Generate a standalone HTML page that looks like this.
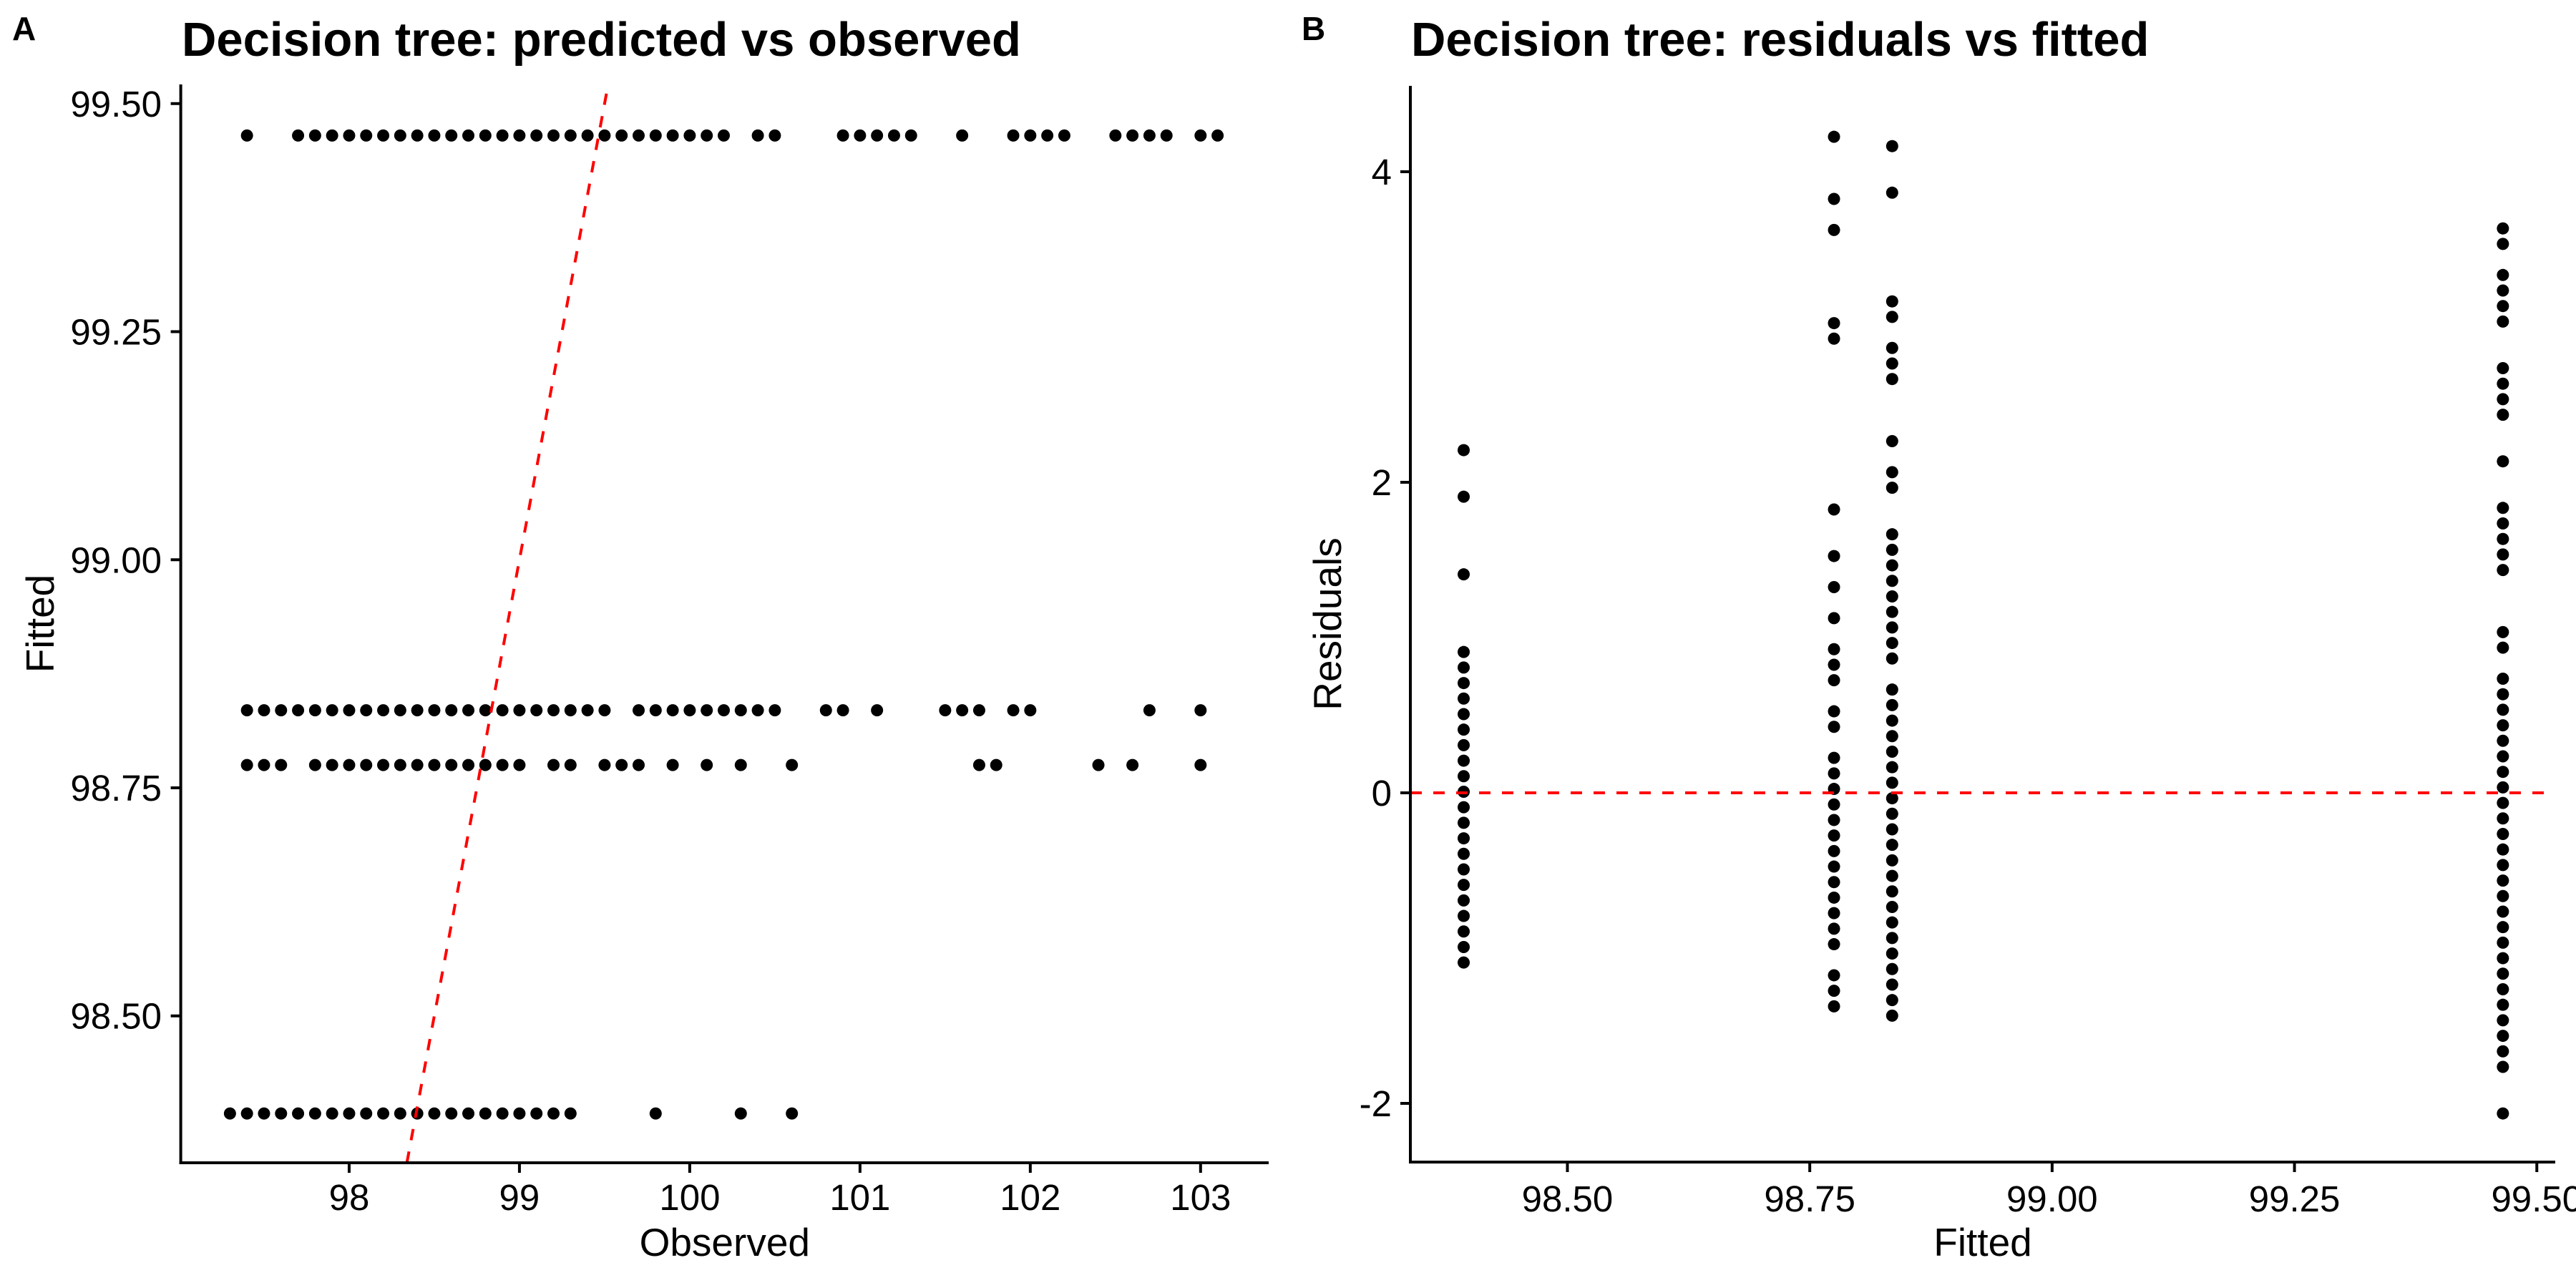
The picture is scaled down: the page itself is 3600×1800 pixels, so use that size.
<!DOCTYPE html>
<html><head><meta charset="utf-8"><style>
html,body{margin:0;padding:0;background:#fff;}
svg{display:block;font-family:"Liberation Sans",Arial,sans-serif;}
</style></head><body>
<svg id="chart" width="3600" height="1800" viewBox="0 0 3600 1800" xmlns="http://www.w3.org/2000/svg">
<rect width="3600" height="1800" fill="#fff"/>
<text x="17" y="56" font-size="46" font-weight="bold">A</text>
<text x="254" y="78" font-size="67" font-weight="bold">Decision tree: predicted vs observed</text>
<text x="1819" y="56" font-size="46" font-weight="bold">B</text>
<text x="1972" y="78" font-size="67" font-weight="bold">Decision tree: residuals vs fitted</text>
<g id="pa"></g>
<g id="pb"></g>
</svg>
<script>
// Panel A data: fitted levels and observed values per level
const fittedLevels = [99.465, 98.835, 98.775, 98.393];
const obsAt99465 = [97.4,97.7,97.8,97.9,98.0,98.1,98.2,98.3,98.4,98.5,98.6,98.7,98.8,98.9,99.0,99.1,99.2,99.3,99.4,99.5,99.6,99.7,99.8,99.9,100.0,100.1,100.2,100.4,100.5,100.9,101.0,101.1,101.2,101.3,101.6,101.9,102.0,102.1,102.2,102.5,102.6,102.7,102.8,103.0,103.1];
const obsAt98835 = [97.4,97.5,97.6,97.7,97.8,97.9,98.0,98.1,98.2,98.3,98.4,98.5,98.6,98.7,98.8,98.9,99.0,99.1,99.2,99.3,99.4,99.5,99.7,99.8,99.9,100.0,100.1,100.2,100.3,100.4,100.5,100.8,100.9,101.1,101.5,101.6,101.7,101.9,102.0,102.7,103.0];
const obsAt98775 = [97.4,97.5,97.6,97.8,97.9,98.0,98.1,98.2,98.3,98.4,98.5,98.6,98.7,98.8,98.9,99.0,99.2,99.3,99.5,99.6,99.7,99.9,100.1,100.3,100.6,101.7,101.8,102.4,102.6,103.0];
const obsAt98393 = [97.3,97.4,97.5,97.6,97.7,97.8,97.9,98.0,98.1,98.2,98.3,98.4,98.5,98.6,98.7,98.8,98.9,99.0,99.1,99.2,99.3,99.8,100.3,100.6];
const aXTicks = [98,99,100,101,102,103];
const aYTicks = [98.50,98.75,99.00,99.25,99.50];
const bXTicks = [98.50,98.75,99.00,99.25,99.50];
const bYTicks = [-2,0,2,4];

const NS = "http://www.w3.org/2000/svg";
function mk(parent, tag, attrs, txt){
  const e = document.createElementNS(NS, tag);
  for (const k in attrs) e.setAttribute(k, attrs[k]);
  if (txt !== undefined) e.textContent = txt;
  parent.appendChild(e);
  return e;
}
const groups = [obsAt99465, obsAt98835, obsAt98775, obsAt98393];
const TICKFS = 51;

// ---- Panel A ----
const A = {l:252.6, r:1773, t:118, b:1625, x0:97.011, x1:103.4, y0:98.339, y1:99.521};
const ax = v => A.l + (v - A.x0) / (A.x1 - A.x0) * (A.r - A.l);
const ay = v => A.b - (v - A.y0) / (A.y1 - A.y0) * (A.b - A.t);
const pa = document.getElementById('pa');
groups.forEach((g, gi) => {
  g.forEach(o => {
    const c = mk(pa, 'circle', {cx: ax(o), cy: ay(fittedLevels[gi]), r: 8.5, fill: '#000'});
    
    
  });
});
const cp = mk(pa, 'clipPath', {id: 'clipA'});
mk(cp, 'rect', {x: A.l, y: A.t, width: A.r - A.l, height: A.b - A.t});
const idl = mk(pa, 'line', {x1: ax(A.y0), y1: ay(A.y0), x2: ax(A.y1), y2: ay(A.y1), stroke: '#ff0000', 'stroke-width': 4, 'stroke-dasharray': '16 16', 'clip-path': 'url(#clipA)'});


let e = mk(pa, 'line', {x1: A.l, y1: A.t, x2: A.l, y2: A.b + 2, stroke: '#000', 'stroke-width': 4});
 
e = mk(pa, 'line', {x1: A.l - 2, y1: A.b, x2: A.r, y2: A.b, stroke: '#000', 'stroke-width': 4});
 
aXTicks.forEach(t => {
  const x = ax(t);
  mk(pa, 'line', {x1: x, y1: A.b, x2: x, y2: A.b + 14, stroke: '#000', 'stroke-width': 4});
  const tx = mk(pa, 'text', {x: x, y: 1691, 'font-size': TICKFS, 'text-anchor': 'middle', fill: '#000'}, String(t));
   
});
aYTicks.forEach(t => {
  const y = ay(t);
  mk(pa, 'line', {x1: A.l - 14, y1: y, x2: A.l, y2: y, stroke: '#000', 'stroke-width': 4});
  const tx = mk(pa, 'text', {x: 226, y: y + 18, 'font-size': TICKFS, 'text-anchor': 'end', fill: '#000'}, t.toFixed(2));
   
});
e = mk(pa, 'text', {x: (A.l + A.r) / 2, y: 1755, 'font-size': 55, 'text-anchor': 'middle'}, 'Observed');
 
e = mk(pa, 'text', {x: 0, y: 0, 'font-size': 55, 'text-anchor': 'middle', transform: 'translate(75,' + (A.t + A.b) / 2 + ') rotate(-90)'}, 'Fitted');
 

// ---- Panel B ----
const B = {l:1971, r:3571, t:120, b:1624, x0:98.338, x1:99.519, y0:-2.378, y1:4.553};
const bx = v => B.l + (v - B.x0) / (B.x1 - B.x0) * (B.r - B.l);
const by = v => B.b - (v - B.y0) / (B.y1 - B.y0) * (B.b - B.t);
const pb = document.getElementById('pb');
groups.forEach((g, gi) => {
  g.forEach(o => {
    const c = mk(pb, 'circle', {cx: bx(fittedLevels[gi]), cy: by(o - fittedLevels[gi]), r: 8.5, fill: '#000'});
    
    
  });
});
e = mk(pb, 'line', {x1: B.l, y1: by(0), x2: B.r, y2: by(0), stroke: '#ff0000', 'stroke-width': 4, 'stroke-dasharray': '16 16'});
 
e = mk(pb, 'line', {x1: B.l, y1: B.t, x2: B.l, y2: B.b + 2, stroke: '#000', 'stroke-width': 4});
 
e = mk(pb, 'line', {x1: B.l - 2, y1: B.b, x2: B.r, y2: B.b, stroke: '#000', 'stroke-width': 4});
 
bXTicks.forEach(t => {
  const x = bx(t);
  mk(pb, 'line', {x1: x, y1: B.b, x2: x, y2: B.b + 14, stroke: '#000', 'stroke-width': 4});
  const tx = mk(pb, 'text', {x: x, y: 1693, 'font-size': TICKFS, 'text-anchor': 'middle', fill: '#000'}, t.toFixed(2));
   
});
bYTicks.forEach(t => {
  const y = by(t);
  mk(pb, 'line', {x1: B.l - 14, y1: y, x2: B.l, y2: y, stroke: '#000', 'stroke-width': 4});
  const tx = mk(pb, 'text', {x: 1945, y: y + 18, 'font-size': TICKFS, 'text-anchor': 'end', fill: '#000'}, String(t));
   
});
e = mk(pb, 'text', {x: (B.l + B.r) / 2, y: 1755, 'font-size': 55, 'text-anchor': 'middle'}, 'Fitted');
 
e = mk(pb, 'text', {x: 0, y: 0, 'font-size': 55, 'text-anchor': 'middle', transform: 'translate(1874,' + (B.t + B.b) / 2 + ') rotate(-90)'}, 'Residuals');
 
</script>
</body></html>
